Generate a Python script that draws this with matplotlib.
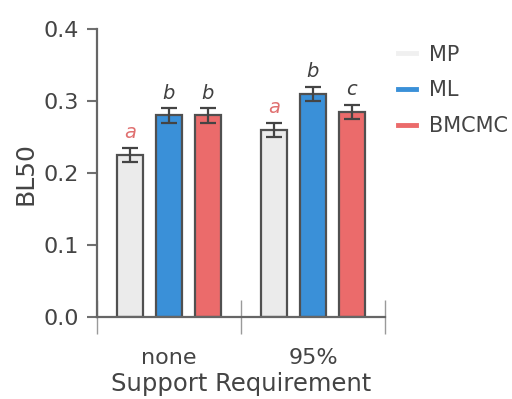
import numpy as np
import matplotlib.pyplot as plt
from matplotlib.lines import Line2D

plt.rcParams['font.family'] = ['DejaVu Sans']

groups = ['none', '95%']
methods = ['MP', 'ML', 'BMCMC']
bl50 = {
    'MP': [0.225, 0.260],
    'ML': [0.280, 0.310],
    'BMCMC': [0.280, 0.285],
}
err = {
    'MP': [0.010, 0.010],
    'ML': [0.010, 0.010],
    'BMCMC': [0.010, 0.010],
}
letters = {
    'MP': ['a', 'a'],
    'ML': ['b', 'b'],
    'BMCMC': ['b', 'c'],
}

colors = {'MP': '#ebebeb', 'ML': '#3a90d8', 'BMCMC': '#eb6b6b'}
legend_colors = {'MP': '#f0f0f0', 'ML': '#3a90d8', 'BMCMC': '#eb6b6b'}
letter_colors = {'MP': '#e07070', 'ML': '#3f3f3f', 'BMCMC': '#3f3f3f'}
txt = '#444444'

fig = plt.figure(figsize=(5.12, 3.99), dpi=100)
ax = fig.add_axes([0.189, 0.2055, 0.563, 0.7215])

centers = np.arange(len(groups)) + 0.5
offsets = [-0.27, 0.0, 0.27]
width = 0.18

for m, off in zip(methods, offsets):
    x = centers + off
    ax.bar(x, bl50[m], width, color=colors[m], edgecolor='#505050',
           linewidth=1.6, zorder=2)
    ax.errorbar(x, bl50[m], yerr=err[m], fmt='none', ecolor='#444444',
                elinewidth=1.6, capsize=6, capthick=1.6, zorder=3)
    for xi, v, e, s in zip(x, bl50[m], err[m], letters[m]):
        ax.annotate(s, (xi, v + e), xytext=(0, 4), textcoords='offset points',
                    ha='center', va='bottom', fontsize=14, style='italic',
                    color=letter_colors[m])

ax.set_xlim(0, 2)
ax.set_ylim(0, 0.4)
ax.set_yticks([0.0, 0.1, 0.2, 0.3, 0.4])
ax.set_yticklabels(['0.0', '0.1', '0.2', '0.3', '0.4'])

# group boundaries as major ticks, group names on minor ticks
ax.set_xticks([0, 1, 2])
ax.set_xticklabels([])
ax.set_xticks(centers, minor=True)
ax.set_xticklabels(groups, minor=True)
ax.tick_params(axis='x', which='major', direction='inout', length=25,
               width=1, color='#9a9a9a')
ax.tick_params(axis='x', which='minor', length=0, pad=22, labelsize=16,
               labelcolor=txt)
ax.tick_params(axis='y', direction='out', length=7, width=1.5, color='#707070',
               labelsize=16, labelcolor=txt, pad=6)

for side in ['top', 'right']:
    ax.spines[side].set_visible(False)
for side in ['left', 'bottom']:
    ax.spines[side].set_color('#666666')
    ax.spines[side].set_linewidth(1.6)

ax.set_ylabel('BL50', fontsize=18, color=txt, labelpad=4)
ax.set_xlabel('Support Requirement', fontsize=17.5, color=txt, labelpad=3)

handles = [Line2D([], [], color=legend_colors[m], lw=3.5) for m in methods]
fig.legend(handles, methods, loc='upper left', bbox_to_anchor=(0.74, 0.935),
           frameon=False, fontsize=15, handlelength=0.9, handletextpad=0.6,
           labelspacing=0.75, labelcolor=txt)

fig.savefig('out.png', dpi=100)
